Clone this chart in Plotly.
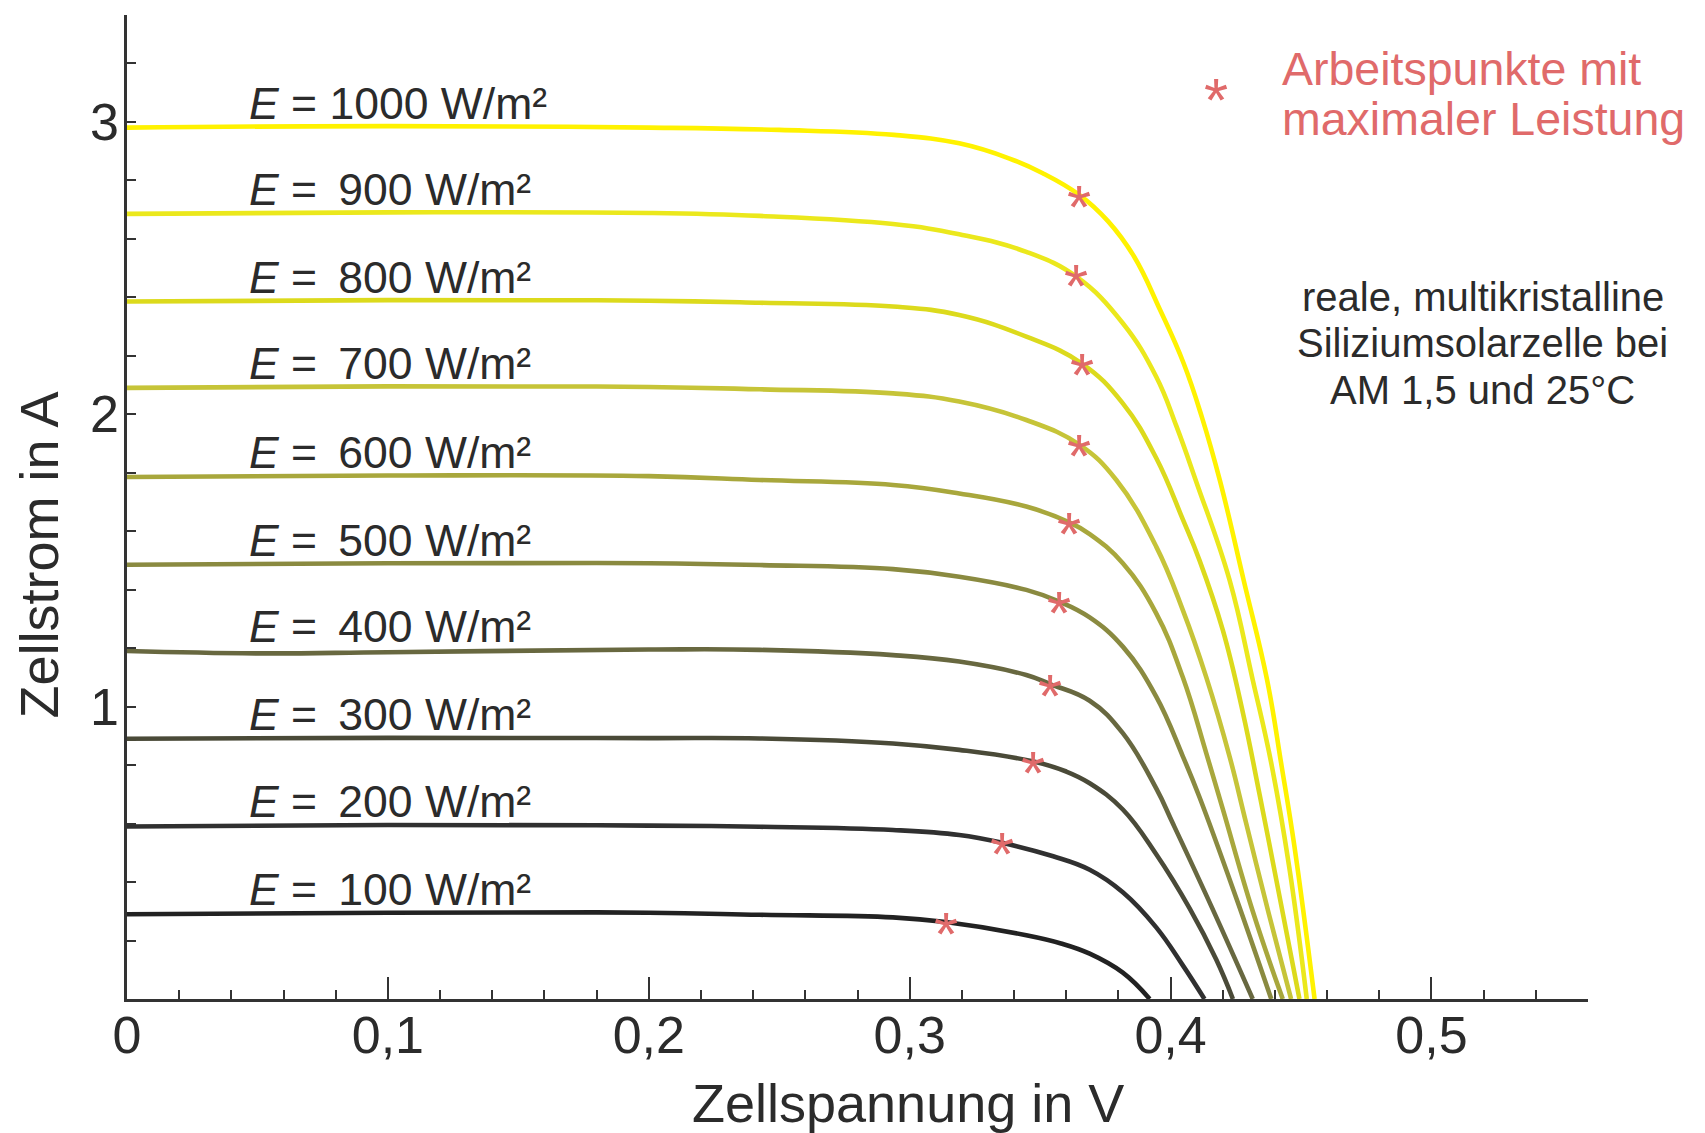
import plotly.graph_objects as go

# ---------------- data ----------------
irradiance = [1000, 900, 800, 700, 600, 500, 400, 300, 200, 100]

v_1000 = [0, 0.10, 0.20, 0.25, 0.294, 0.319, 0.338, 0.351, 0.365, 0.376, 0.386, 0.396, 0.405, 0.412, 0.419, 0.428, 0.437, 0.4425, 0.4475, 0.4552]
i_1000 = [2.98, 2.985, 2.98, 2.972, 2.955, 2.926, 2.875, 2.824, 2.75, 2.66, 2.539, 2.356, 2.174, 1.99, 1.77, 1.433, 1.091, 0.80, 0.52, 0]

v_900 = [0, 0.10, 0.20, 0.2425, 0.2936, 0.319, 0.3447, 0.3639, 0.3817, 0.3945, 0.4022, 0.4098, 0.4226, 0.4315, 0.4386, 0.4455, 0.4522]
i_900 = [2.685, 2.69, 2.688, 2.678, 2.65, 2.615, 2.555, 2.47, 2.311, 2.128, 1.96, 1.77, 1.433, 1.091, 0.806, 0.45, 0]

v_800 = [0, 0.10, 0.20, 0.2425, 0.2936, 0.319, 0.3447, 0.3659, 0.3817, 0.3945, 0.4047, 0.4111, 0.42, 0.4277, 0.4341, 0.442, 0.4494]
i_800 = [2.385, 2.39, 2.388, 2.381, 2.368, 2.339, 2.265, 2.174, 2.037, 1.85, 1.64, 1.5, 1.262, 0.98, 0.70, 0.34, 0]

v_700 = [0, 0.10, 0.20, 0.2425, 0.2936, 0.319, 0.3447, 0.365, 0.3792, 0.3945, 0.4047, 0.4137, 0.4226, 0.429, 0.4377, 0.4462]
i_700 = [2.09, 2.095, 2.093, 2.085, 2.071, 2.043, 1.98, 1.896, 1.775, 1.547, 1.33, 1.10, 0.83, 0.60, 0.29, 0]

v_600 = [0, 0.10, 0.20, 0.2425, 0.2936, 0.319, 0.3447, 0.3609, 0.369, 0.3817, 0.3945, 0.4047, 0.4137, 0.42, 0.4315, 0.443]
i_600 = [1.785, 1.79, 1.788, 1.775, 1.758, 1.729, 1.684, 1.631, 1.59, 1.49, 1.319, 1.10, 0.84, 0.65, 0.30, 0]

v_500 = [0, 0.10, 0.20, 0.2425, 0.2936, 0.319, 0.3447, 0.3571, 0.369, 0.3817, 0.3945, 0.4047, 0.4111, 0.425, 0.4386]
i_500 = [1.485, 1.49, 1.49, 1.484, 1.47, 1.444, 1.399, 1.36, 1.305, 1.205, 1.034, 0.83, 0.69, 0.35, 0]

v_400 = [0, 0.05, 0.10, 0.20, 0.2425, 0.2936, 0.319, 0.3447, 0.3538, 0.369, 0.3817, 0.3945, 0.4009, 0.416, 0.4315]
i_400 = [1.19, 1.182, 1.186, 1.195, 1.194, 1.176, 1.154, 1.108, 1.077, 1.02, 0.909, 0.72, 0.60, 0.31, 0]

v_300 = [0, 0.10, 0.20, 0.2425, 0.2936, 0.319, 0.3471, 0.36, 0.369, 0.3817, 0.3945, 0.4073, 0.4175, 0.4239]
i_300 = [0.89, 0.893, 0.892, 0.891, 0.874, 0.852, 0.813, 0.778, 0.738, 0.648, 0.495, 0.31, 0.135, 0]

v_200 = [0, 0.10, 0.20, 0.2425, 0.2936, 0.319, 0.3355, 0.355, 0.369, 0.3817, 0.3945, 0.4047, 0.413]
i_200 = [0.59, 0.595, 0.593, 0.589, 0.578, 0.561, 0.534, 0.488, 0.442, 0.365, 0.245, 0.115, 0]

v_100 = [0, 0.10, 0.20, 0.2425, 0.2936, 0.3138, 0.3447, 0.358, 0.369, 0.3817, 0.392]
i_100 = [0.29, 0.295, 0.295, 0.288, 0.279, 0.263, 0.218, 0.19, 0.155, 0.09, 0]

# maximum power points
mpp_v = [0.365, 0.3638, 0.3659, 0.365, 0.3609, 0.3571, 0.3538, 0.3471, 0.3355, 0.3138]
mpp_i = [2.747, 2.476, 2.174, 1.896, 1.631, 1.36, 1.077, 0.813, 0.534, 0.263]

x_tick_vals = [0, 0.1, 0.2, 0.3, 0.4, 0.5]
x_tick_text = ["0", "0,1", "0,2", "0,3", "0,4", "0,5"]
y_tick_vals = [1, 2, 3]
y_tick_text = ["1", "2", "3"]

# ---------------- styling ----------------
curve_colors = ["#fff200", "#ebe81c", "#dcda1c", "#c6c438", "#a8a73c",
                "#8a8a40", "#686840", "#4a4a38", "#303030", "#222222"]
FONT = "Liberation Sans, Arial, sans-serif"
DARK = "#2b2b2b"
SALMON = "#e06a6a"
AX = "#333333"

voltages = [v_1000, v_900, v_800, v_700, v_600, v_500, v_400, v_300, v_200, v_100]
currents = [i_1000, i_900, i_800, i_700, i_600, i_500, i_400, i_300, i_200, i_100]

fig = go.Figure()
for E, v, c, col in zip(irradiance, voltages, currents, curve_colors):
    fig.add_trace(go.Scatter(x=v, y=c, mode="lines", name=f"E = {E} W/m²",
                             line=dict(color=col, width=4.6, shape="spline", smoothing=1.2),
                             showlegend=False, hoverinfo="skip"))

annotations = []
# curve labels
for E, c in zip(irradiance, currents):
    num = str(E) if E >= 1000 else "\u2009" + str(E)
    annotations.append(dict(x=0.046, y=c[0], xref="x", yref="y", xanchor="left", yanchor="bottom",
                            yshift=-2, showarrow=False,
                            text=f"<i>E</i> = {num} W/m²",
                            font=dict(family=FONT, size=44.5, color=DARK)))
# maximum power point stars
STAR_SIZE = 62
for v, c in zip(mpp_v, mpp_i):
    annotations.append(dict(x=v, y=c, xref="x", yref="y", xanchor="center", yanchor="middle",
                            yshift=-11, showarrow=False, text="*",
                            font=dict(family=FONT, size=STAR_SIZE, color=SALMON)))
# legend
annotations.append(dict(x=0.7452, y=0.9235, xref="paper", yref="paper", xanchor="center", yanchor="middle",
                        yshift=-9, showarrow=False, text="*", font=dict(family=FONT, size=STAR_SIZE, color=SALMON)))
for txt, yy in [("Arbeitspunkte mit", 0.9453), ("maximaler Leistung", 0.8945)]:
    annotations.append(dict(x=0.789, y=yy, xref="paper", yref="paper", xanchor="left", yanchor="middle",
                            showarrow=False, text=txt, font=dict(family=FONT, size=46.5, color=SALMON)))
# description
for txt, yy in [("reale, multikristalline", 0.7134), ("Siliziumsolarzelle bei", 0.6667),
                ("AM 1,5 und 25°C", 0.6194)]:
    annotations.append(dict(x=0.9281, y=yy, xref="paper", yref="paper", xanchor="center", yanchor="middle",
                            showarrow=False, text=txt, font=dict(family=FONT, size=40, color=DARK)))
# axis titles
annotations.append(dict(x=0.5346, y=-0.1057, xref="paper", yref="paper", xanchor="center", yanchor="middle",
                        showarrow=False, text="Zellspannung in V", font=dict(family=FONT, size=54, color=DARK)))
annotations.append(dict(x=-0.0603, y=0.4516, xref="paper", yref="paper", xanchor="center", yanchor="middle",
                        textangle=-90, showarrow=False, text="Zellstrom in A",
                        font=dict(family=FONT, size=54, color=DARK)))

# the page body adds an 8 px margin, so the figure is sized/offset to fit the window
fig.update_layout(
    width=1689, height=1125,
    margin=dict(l=119, r=109, t=7, b=134),
    paper_bgcolor="white", plot_bgcolor="white",
    font=dict(family=FONT, color=DARK),
    annotations=annotations,
    showlegend=False,
)
fig.update_xaxes(range=[0, 0.56], showgrid=False, zeroline=False,
                 showline=True, linecolor=AX, linewidth=2.5,
                 tickmode="array", tickvals=x_tick_vals, ticktext=x_tick_text,
                 ticks="inside", ticklen=22, tickwidth=2, tickcolor=AX,
                 ticklabelstandoff=-11,
                 tickfont=dict(family=FONT, size=52, color=DARK),
                 minor=dict(ticks="inside", tick0=0, dtick=0.02, ticklen=9, tickwidth=2,
                            tickcolor=AX, showgrid=False))
fig.update_yaxes(range=[0, 3.365], showgrid=False, zeroline=False,
                 showline=True, linecolor=AX, linewidth=2.5,
                 tickmode="array", tickvals=y_tick_vals, ticktext=y_tick_text,
                 ticks="inside", ticklen=9, tickwidth=2, tickcolor=AX,
                 ticklabelstandoff=-5,
                 tickfont=dict(family=FONT, size=52, color=DARK),
                 minor=dict(ticks="inside", tick0=0, dtick=0.2, ticklen=9, tickwidth=2,
                            tickcolor=AX, showgrid=False))

fig.write_html("out.html")
